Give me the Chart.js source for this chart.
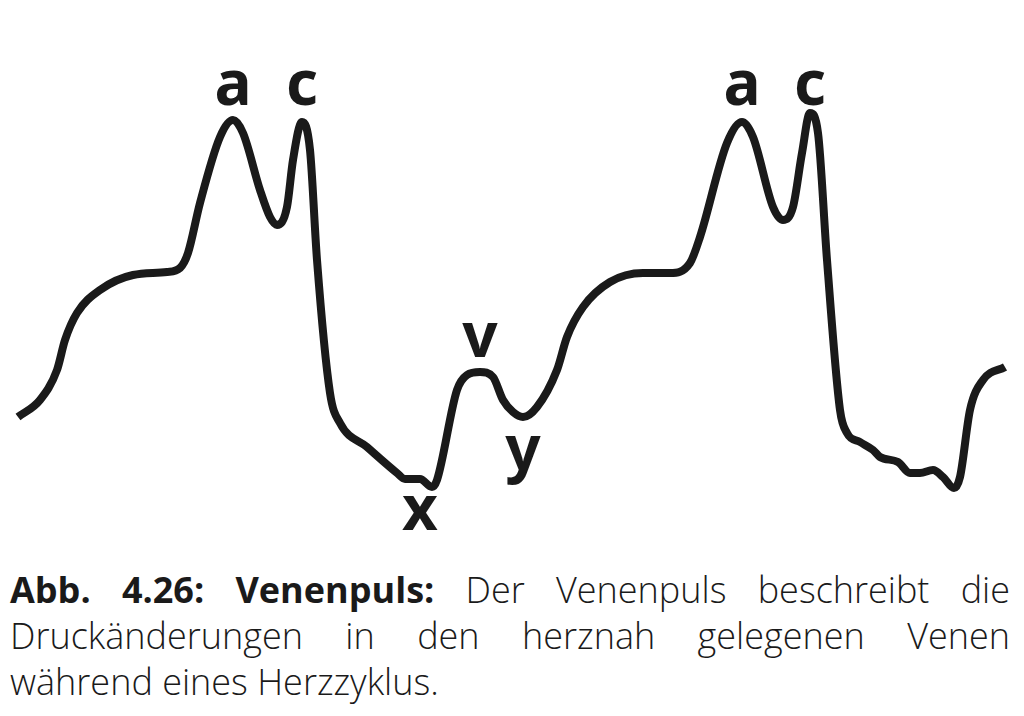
<!DOCTYPE html>
<html>
<head>
<meta charset="utf-8">
<script src="https://cdn.jsdelivr.net/npm/chart.js@4.4.1/dist/chart.umd.min.js"></script>
<style>
  html,body{margin:0;padding:0;background:#fff;}
  body{width:1024px;height:716px;position:relative;overflow:hidden;}
  #wrap{position:absolute;left:0;top:0;width:1024px;height:550px;}
  #cap{position:absolute;left:10px;top:567px;width:1000px;font-family:"Open Sans",sans-serif;font-weight:300;font-size:36px;line-height:46px;color:#1a1a1a;}
  #cap div{white-space:nowrap;}
  #cap .j{text-align:justify;text-align-last:justify;white-space:normal;}
  #cap b{font-weight:700;}
</style>
</head>
<body>
<div id="wrap"><canvas id="c" width="1024" height="550"></canvas></div>
<div id="cap">
  <div class="j"><b>Abb. 4.26: Venenpuls:</b> Der Venenpuls beschreibt die</div>
  <div class="j">Druckänderungen in den herznah gelegenen Venen</div>
  <div>während eines Herzzyklus.</div>
</div>
<script>
// time (x) and pressure (y) samples
const timeValues = [18,40,57,65,77,100,133,167,180,188,200,220,233,243,260,270,277,287,293,302,310,317,330,340,367,397,405,420,432,437,457,467,480,493,503,513,523,537,557,567,583,610,643,670,690,700,727,742,753,773,783,793,802,810,818,827,840,847,860,873,880,898,910,920,933,943,954,960,970,983,1005];
const pressureValues = [133,150,180,210,237,260,275,278,282,297,347,413,430,417,360,333,325,343,390,428,400,290,157,127,103,77,71,71,63,70,160,175,178,173,150,138,133,143,180,213,243,268,277,277,287,313,407,428,413,343,330,343,397,437,417,290,140,117,108,100,93,88,77,77,80,73,62,73,140,170,183];
// wave labels
const waveNames = ["a","c","x","v","y","a","c"];
const waveX = [233,302,420,480,523,742,810];
const waveY = [462,462,37,210,97,462,462];

const labelPlugin = {
  id:'waveLabels',
  afterDatasetsDraw(chart){
    const {ctx, scales:{x,y}} = chart;
    ctx.save();
    ctx.fillStyle = '#1a1a1a';
    ctx.font = 'bold 62px "Noto Sans", sans-serif';
    ctx.textAlign = 'center';
    ctx.textBaseline = 'alphabetic';
    waveNames.forEach((t,i)=>{
      ctx.fillText(t, x.getPixelForValue(waveX[i]), y.getPixelForValue(waveY[i]) + 17);
    });
    ctx.restore();
  }
};

new Chart(document.getElementById('c'), {
  type:'line',
  data:{
    datasets:[{
      data: timeValues.map((t,i)=>({x:t,y:pressureValues[i]})),
      borderColor:'#1a1a1a',
      borderWidth:8,
      pointRadius:0,
      fill:false,
      cubicInterpolationMode:'monotone',
      borderCapStyle:'butt',
      borderJoinStyle:'round'
    }]
  },
  options:{
    responsive:false,
    animation:false,
    layout:{padding:0},
    plugins:{legend:{display:false},tooltip:{enabled:false}},
    scales:{
      x:{type:'linear',min:0,max:1024,display:false},
      y:{type:'linear',min:0,max:550,display:false}
    }
  },
  plugins:[labelPlugin]
});
</script>
</body>
</html>
